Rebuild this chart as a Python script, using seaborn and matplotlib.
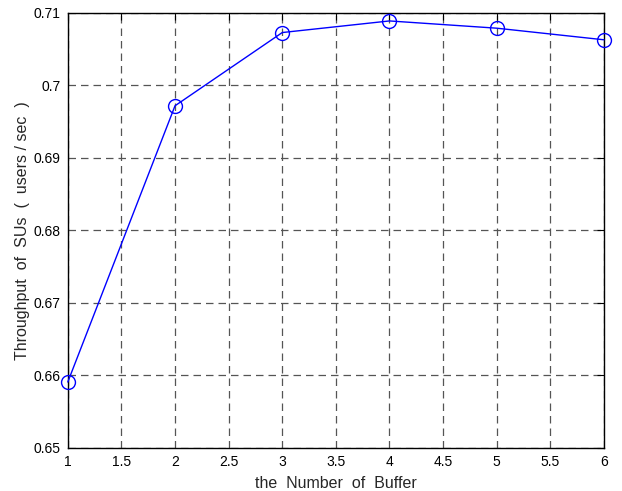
import matplotlib
matplotlib.use("Agg")
import matplotlib.pyplot as plt
import seaborn as sns
import pandas as pd

buffers = [1, 2, 3, 4, 5, 6]
throughput = [0.6591, 0.6972, 0.7073, 0.7089, 0.7079, 0.7063]

x_ticks = [1, 1.5, 2, 2.5, 3, 3.5, 4, 4.5, 5, 5.5, 6]
x_tick_labels = ["1", "1.5", "2", "2.5", "3", "3.5", "4", "4.5", "5", "5.5", "6"]
y_ticks = [0.65, 0.66, 0.67, 0.68, 0.69, 0.70, 0.71]
y_tick_labels = ["0.65", "0.66", "0.67", "0.68", "0.69", "0.7", "0.71"]

sns.set_style("white")
plt.rcParams["font.family"] = ["Liberation Sans", "DejaVu Sans"]

df = pd.DataFrame({"buffer": buffers, "throughput": throughput})

fig = plt.figure(figsize=(6.22, 4.91), dpi=100)
ax = fig.add_axes([0.109, 0.0876, 0.862, 0.886])

sns.lineplot(data=df, x="buffer", y="throughput", ax=ax, color="#0000FF",
             linewidth=1.0, marker="o", markersize=10, markerfacecolor="none",
             markeredgecolor="#0000FF", markeredgewidth=1.0, zorder=5,
             clip_on=False)

ax.set_xlim(1, 6)
ax.set_ylim(0.65, 0.71)
ax.set_xticks(x_ticks)
ax.set_xticklabels(x_tick_labels)
ax.set_yticks(y_ticks)
ax.set_yticklabels(y_tick_labels)

ax.grid(True, color="#555555", linestyle=(0, (6, 4)), linewidth=0.9)
ax.set_axisbelow(True)

for s in ax.spines.values():
    s.set_visible(True)
    s.set_color("black")
    s.set_linewidth(1.0)

ax.tick_params(direction="in", length=5, width=0.8, top=True, right=True,
               labelsize=10, colors="black", pad=5)

ax.set_xlabel("the  Number  of  Buffer", fontsize=11.5, labelpad=5)
ax.set_ylabel("Throughput  of  SUs  (  users / sec  )", fontsize=11.5, labelpad=3)

fig.savefig("out.png", dpi=100)
